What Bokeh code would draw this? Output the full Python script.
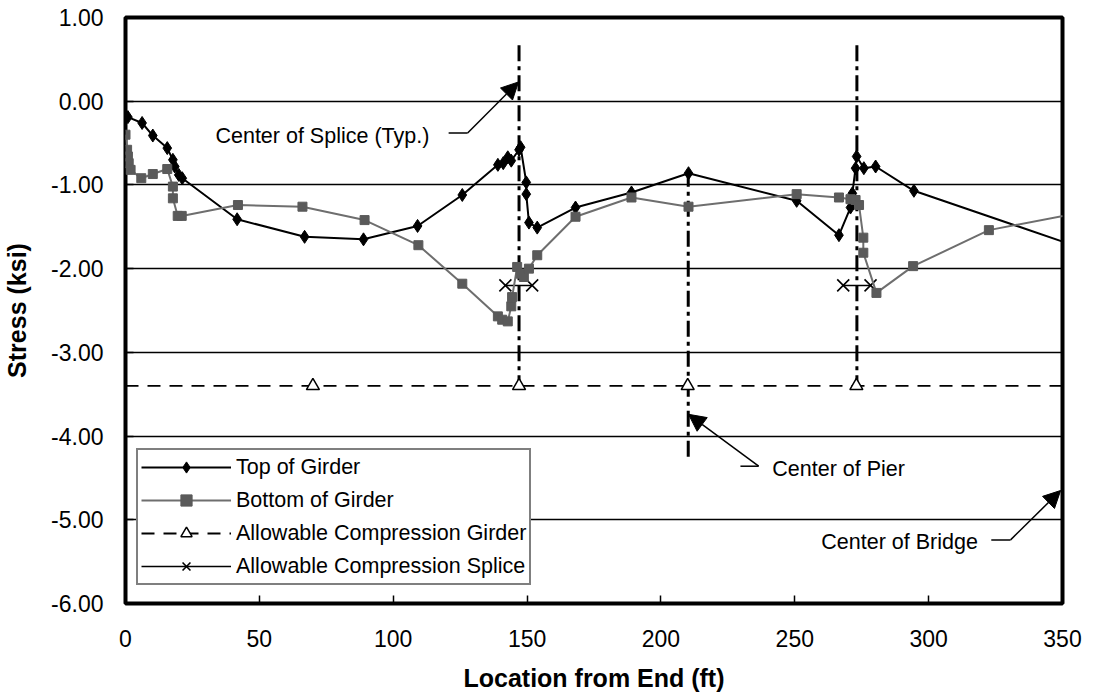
from bokeh.plotting import figure
from bokeh.models import (Range1d, FixedTicker, Legend, LegendItem, Arrow, NormalHead,
                          Label)
from bokeh.embed import file_html
from bokeh.resources import INLINE
import numpy as np

# ---------------- data ----------------
top_x = [0.9, 6.2, 10.2, 15.6, 17.7, 18.4, 19.9, 21.2, 41.7, 66.9, 88.9, 109.1, 125.8,
         139.1, 141.1, 142.8, 144.1, 147.0, 147.6, 149.7, 149.7, 150.7, 153.8, 168.1,
         189.0, 210.3, 250.7, 266.5, 270.8, 271.5, 272.7, 273.1, 275.8, 280.2, 294.5, 365.0]
top_y = [-0.19, -0.26, -0.41, -0.56, -0.70, -0.78, -0.88, -0.92, -1.41, -1.62, -1.65, -1.49, -1.12,
         -0.76, -0.74, -0.67, -0.71, -0.58, -0.55, -0.97, -1.11, -1.45, -1.51, -1.27,
         -1.09, -0.86, -1.19, -1.60, -1.27, -1.10, -0.80, -0.66, -0.80, -0.78, -1.07, -1.84]

bot_x = [0.0, 0.6, 0.9, 1.2, 1.9, 5.9, 10.2, 15.6, 17.7, 17.7, 19.5, 21.0, 42.0, 66.1, 89.3,
         109.4, 125.8, 139.1, 140.7, 142.8, 144.1, 144.4, 146.3, 147.6, 148.8, 150.7, 153.8,
         168.1, 189.0, 210.3, 250.7, 266.5, 270.8, 272.7, 274.0, 275.6, 275.6, 280.5, 294.2,
         322.5, 365.0]
bot_y = [-0.40, -0.58, -0.66, -0.74, -0.82, -0.92, -0.87, -0.81, -1.02, -1.16, -1.37, -1.37, -1.24,
         -1.26, -1.42, -1.72, -2.18, -2.57, -2.61, -2.63, -2.45, -2.34, -1.98, -2.06, -2.10, -2.00,
         -1.84, -1.38, -1.15, -1.26, -1.11, -1.15, -1.17, -1.18, -1.24, -1.63, -1.81, -2.29, -1.97,
         -1.54, -1.28]

girder_allow_value = -3.40
girder_allow_line_x = [0, 350]
girder_allow_marker_x = [70, 147, 210, 273]

splice_allow_value = -2.20
splice_allow_x = [141.9, 151.9, np.nan, 268.1, 278.3]

splice_center_x = [147.0, 273.2]
splice_line_top, splice_line_bottom = 0.67, -3.40
pier_center_x = [210.2]
pier_line_top, pier_line_bottom = -0.83, -4.26

y_ticks = [-6, -5, -4, -3, -2, -1, 0, 1]
y_tick_labels = ["-6.00", "-5.00", "-4.00", "-3.00", "-2.00", "-1.00", "0.00", "1.00"]
x_ticks = [0, 50, 100, 150, 200, 250, 300, 350]

FONT = "Liberation Sans"

# ---------------- figure ----------------
p = figure(width=1090, height=696, x_range=Range1d(0, 350), y_range=Range1d(-6, 1),
           output_backend="svg", toolbar_location=None,
           min_border_left=125, min_border_right=28, min_border_top=17, min_border_bottom=93)
p.background_fill_color = "white"
p.border_fill_color = "white"
p.outline_line_color = "black"
p.outline_line_width = 4

p.xgrid.visible = False
p.ygrid.grid_line_color = "black"
p.ygrid.grid_line_width = 1.6
p.ygrid.ticker = FixedTicker(ticks=y_ticks)

p.xaxis.ticker = FixedTicker(ticks=x_ticks)
p.yaxis.ticker = FixedTicker(ticks=y_ticks)
p.yaxis.major_label_overrides = {t: l for t, l in zip(y_ticks, y_tick_labels)}

for ax in (p.xaxis[0], p.yaxis[0]):
    ax.axis_line_color = None
    ax.major_tick_in = 8
    ax.major_tick_out = 0
    ax.major_tick_line_color = "black"
    ax.major_tick_line_width = 1.5
    ax.minor_tick_line_color = None
    ax.major_label_text_font = FONT
    ax.major_label_text_font_size = "23px"
    ax.major_label_text_color = "black"
    ax.axis_label_text_font = FONT
    ax.axis_label_text_font_size = "25px"
    ax.axis_label_text_font_style = "bold"
    ax.axis_label_text_color = "black"

p.xaxis.axis_label = "Location from End (ft)"
p.yaxis.axis_label = "Stress (ksi)"
p.xaxis.major_label_standoff = 26
p.xaxis.axis_label_standoff = 14
p.yaxis.major_label_standoff = 22
p.yaxis.axis_label_standoff = 17

# ---------------- reference lines ----------------
dashdot = "16 5 4 5"
p.segment(x0=splice_center_x, x1=splice_center_x,
          y0=[splice_line_top] * len(splice_center_x), y1=[splice_line_bottom] * len(splice_center_x),
          line_color="black", line_width=3, line_dash=dashdot)
p.segment(x0=pier_center_x, x1=pier_center_x,
          y0=[pier_line_top] * len(pier_center_x), y1=[pier_line_bottom] * len(pier_center_x),
          line_color="black", line_width=3, line_dash=dashdot)

# ---------------- series ----------------
ga_line = p.line(girder_allow_line_x, [girder_allow_value] * len(girder_allow_line_x),
                 line_color="black", line_width=1.8, line_dash="13 9")
ga_pts = p.scatter(girder_allow_marker_x, [girder_allow_value] * len(girder_allow_marker_x),
                   marker="triangle", size=13, fill_color="white", line_color="black", line_width=1.5)

sa_y = [splice_allow_value if not np.isnan(v) else np.nan for v in splice_allow_x]
sa_line = p.line(splice_allow_x, sa_y, line_color="black", line_width=1.5)
sa_pts = p.scatter(splice_allow_x, sa_y, marker="x", size=17, line_color="black", line_width=1.6)

top_line = p.line(top_x, top_y, line_color="black", line_width=2)
top_pts = p.scatter(top_x, top_y, marker="diamond", size=13, fill_color="black", line_color="black")

gray_pts_color = "#5a5a5a"
bot_line = p.line(bot_x, bot_y, line_color="#6e6e6e", line_width=2)
bot_pts = p.scatter(bot_x, bot_y, marker="square", size=9, fill_color=gray_pts_color,
                    line_color=gray_pts_color)

# ---------------- annotations ----------------
ann_font_size = "21.5px"

def annotate(text, tx, ty, lx0, lx1, ly, tipx, tipy):
    p.add_layout(Label(x=tx, y=ty, text=text, text_font=FONT, text_font_size=ann_font_size,
                       text_baseline="middle", text_align="left", text_color="black"))
    p.line([lx0, lx1], [ly, ly], line_color="black", line_width=1.5)
    p.add_layout(Arrow(x_start=lx1, y_start=ly, x_end=tipx, y_end=tipy,
                       line_color="black", line_width=1.5,
                       end=NormalHead(size=17, fill_color="black", line_color="black")))

annotate("Center of Splice (Typ.)", 33.6, -0.41, 120.7, 127.8, -0.38, 146.8, 0.23)
annotate("Center of Pier", 241.6, -4.39, 229.7, 236.5, -4.36, 210.3, -3.74)
annotate("Center of Bridge", 259.9, -5.27, 323.4, 330.6, -5.24, 349.3, -4.65)

# ---------------- legend ----------------
legend = Legend(items=[
    LegendItem(label="Top of Girder", renderers=[top_line, top_pts]),
    LegendItem(label="Bottom of Girder", renderers=[bot_line, bot_pts]),
    LegendItem(label="Allowable Compression Girder", renderers=[ga_line, ga_pts]),
    LegendItem(label="Allowable Compression Splice", renderers=[sa_line, sa_pts]),
], location=(11, 18))
legend.margin = 0
legend.padding = 3
legend.spacing = 5
legend.glyph_width = 90
legend.glyph_height = 28
legend.label_height = 20
legend.label_standoff = 5
legend.label_text_font = FONT
legend.label_text_font_size = ann_font_size
legend.label_text_color = "black"
legend.border_line_color = "black"
legend.border_line_width = 2
legend.background_fill_color = "white"
legend.background_fill_alpha = 1
p.add_layout(legend)

open("out.html", "w").write(file_html(p, INLINE))
